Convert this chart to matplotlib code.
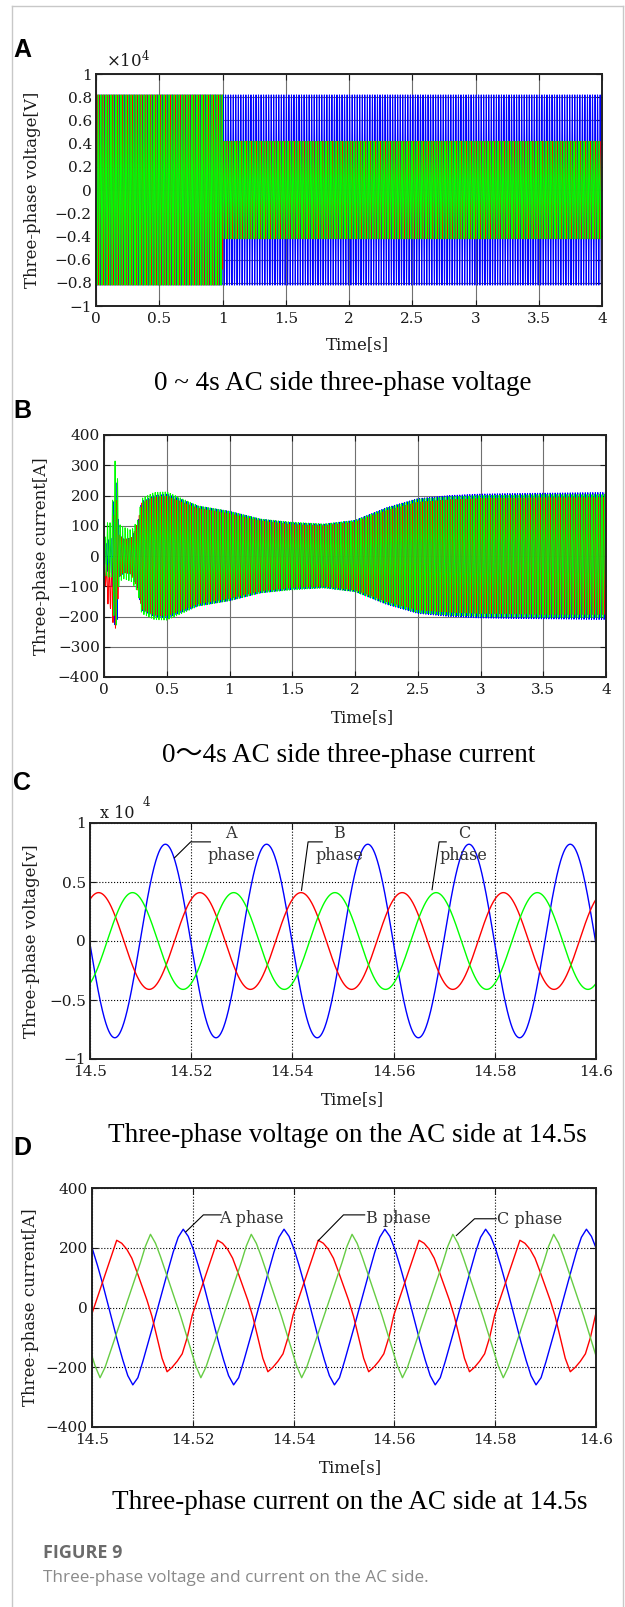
import numpy as np
import matplotlib
matplotlib.use('Agg')
import matplotlib.pyplot as plt
from matplotlib.lines import Line2D

W, H = 625, 1607

plt.rcParams['font.family'] = ['DejaVu Serif']
plt.rcParams['mathtext.fontset'] = 'dejavuserif'

BLUE, RED, GREEN = '#0000ff', '#ff0000', '#00ff00'
GREEN_D = '#66cc44'
F_GRID = 50.0  # grid frequency, Hz

# ---------------- A: 0-4 s AC voltage (x10^4 V) ----------------
a_seg_t = [0.0, 1.0, 4.0]          # amplitude steps at 1 s
a_amp_A = [0.82, 0.82]             # blue
a_amp_B = [0.82, 0.42]             # red
a_amp_C = [0.82, 0.42]             # green
a_phase = [0, -120, 120]
a_xticks = [0, 0.5, 1, 1.5, 2, 2.5, 3, 3.5, 4]
a_xlabels = ['0', '0.5', '1', '1.5', '2', '2.5', '3', '3.5', '4']
a_yticks = [-1, -0.8, -0.6, -0.4, -0.2, 0, 0.2, 0.4, 0.6, 0.8, 1]

b_key_t = [0.00, 0.02, 0.06, 0.08, 0.10, 0.12, 0.16, 0.22, 0.27, 0.30, 0.40, 0.50,
           0.75, 1.00, 1.25, 1.50, 1.75, 2.00, 2.25, 2.50, 2.75, 3.00, 3.50, 4.00]
b_amp_A = [20, 50, 60, 220, 250, 70, 55, 60, 110, 180, 200, 205,
           165, 148, 122, 110, 105, 118, 160, 190, 200, 205, 208, 210]
b_amp_B = [20, 60, 80, 190, 210, 70, 55, 60, 110, 175, 195, 198,
           158, 140, 116, 104, 100, 112, 150, 178, 186, 190, 193, 193]
b_amp_C = [30, 90, 90, 250, 290, 95, 85, 85, 120, 190, 210, 212,
           166, 148, 122, 112, 106, 118, 158, 188, 196, 200, 203, 203]
b_off_B = [0, -90, -100, -60, -20, 0, 0, 0, 0, 0, 0, 0,
           0, 0, 0, 0, 0, 0, 0, 0, 0, 0, 0, 0]
b_off_C = [0, 20, 20, 40, 60, 10, 10, 0, 0, 0, 0, 0,
           0, 0, 0, 0, 0, 0, 0, 0, 0, 0, 0, 0]
b_phase = [-174, 66, -54]
b_yticks = [-400, -300, -200, -100, 0, 100, 200, 300, 400]

# ---------------- C: voltage at 14.5 s (x10^4 V) ----------------
c_amp = [0.82, 0.41, 0.41]                 # blue, red, green
c_peak_t = [14.5149, 14.5017, 14.5084]     # time of a positive peak
c_lead = [[(14.5167, 0.705), (14.5199, 0.84), (14.5238, 0.84)],
          [(14.5418, 0.43), (14.5431, 0.84), (14.5459, 0.84)],
          [(14.5676, 0.435), (14.5690, 0.84), (14.5704, 0.84)]]
c_lbl_t = [14.5279, 14.5493, 14.5739]
c_lbl = ['A\nphase', 'B\nphase', 'C\nphase']
c_yticks = [-1, -0.5, 0, 0.5, 1]
cd_xticks = [14.5, 14.52, 14.54, 14.56, 14.58, 14.6]
cd_xlabels = ['14.5', '14.52', '14.54', '14.56', '14.58', '14.6']

# ---------------- D: current at 14.5 s (A), one period every 1 ms from peak ----------------
d_peak_t = [14.5181, 14.5049, 14.5116]
d_shape_A = [262, 238, 195, 140, 80, 15, -50, -115, -175, -228, -259,
             -235, -180, -120, -60, 2, 65, 125, 185, 235, 262]
d_shape_B = [225, 215, 195, 165, 120, 72, 25, -30, -100, -170, -215,
             -200, -180, -155, -100, -25, 25, 75, 125, 175, 225]
d_shape_C = [245, 215, 170, 120, 70, 20, -30, -85, -140, -195, -235,
             -200, -150, -100, -50, 0, 50, 100, 150, 205, 245]
d_lead = [[(14.5186, 253), (14.5221, 310), (14.5256, 310)],
          [(14.5449, 224), (14.5499, 310), (14.5541, 310)],
          [(14.5723, 241), (14.5759, 297), (14.5802, 297)]]
d_lbl_xy = [(14.5252, 299), (14.5543, 299), (14.5804, 293)]
d_lbl = ['A phase', 'B phase', 'C phase']
d_yticks = [-400, -200, 0, 200, 400]


def rect(box):
    l, t, r, b = box
    return [l / W, 1 - b / H, (r - l) / W, (b - t) / H]


def fx(px):
    return px / W


def fy(py):
    return 1 - py / H


def fmt(v):
    return ('%g' % v).replace('-', '\u2212')


def style(ax, box, ylabel, xlab_px, ylab_px, ls, gcolor):
    ax.tick_params(direction='in', length=4, width=0.8, top=True, right=True,
                   labelsize=11, colors='#1a1a1a')
    ax.tick_params(axis='y', pad=3)
    ax.tick_params(axis='x', pad=4)
    for s in ax.spines.values():
        s.set_linewidth(1.4)
        s.set_color('#222222')
    ax.grid(True, ls=ls, color=gcolor, lw=0.8)
    l, t, r, b = box
    ax.set_xlabel('Time[s]', fontsize=12, color='#1a1a1a', va='center')
    ax.xaxis.set_label_coords((xlab_px[0] - l) / (r - l), (b - xlab_px[1]) / (b - t))
    ax.set_ylabel(ylabel, fontsize=12, color='#1a1a1a', va='center')
    ax.yaxis.set_label_coords((ylab_px - l) / (r - l), 0.5)


def carrier(t, amp, phase_deg, offset=0.0):
    return offset + amp * np.sin(2 * np.pi * F_GRID * t + np.deg2rad(phase_deg))


def tile_period(shape, peak, n_per=8):
    vals = np.tile(shape[:-1], n_per)
    tt = peak - 0.02 + np.arange(len(vals)) * 0.001
    return tt, vals


fig = plt.figure(figsize=(W / 100, H / 100), dpi=100)

# frame
frame_c = '#c8c8c8'
fig.add_artist(Line2D([fx(12), fx(12)], [fy(6), 0], color=frame_c, lw=1))
fig.add_artist(Line2D([fx(12), fx(623)], [fy(6), fy(6)], color=frame_c, lw=1))
fig.add_artist(Line2D([fx(623), fx(623)], [fy(6), 0], color=frame_c, lw=1))

# ---------------- panel A ----------------
boxA = (96, 74, 602, 306)
axA = fig.add_axes(rect(boxA))
t = np.arange(0, 4.0, 2e-4)
seg = np.searchsorted(a_seg_t[1:-1], t, side='right')
for amps, ph, col, lw in zip([a_amp_A, a_amp_B, a_amp_C], a_phase, [BLUE, RED, GREEN],
                             [0.7, 0.6, 0.8]):
    axA.plot(t, carrier(t, np.array(amps)[seg], ph), color=col, lw=lw)
axA.set_xlim(0, 4)
axA.set_ylim(-1, 1)
axA.set_xticks(a_xticks, a_xlabels)
axA.set_yticks(a_yticks, [fmt(v) for v in a_yticks])
style(axA, boxA, 'Three-phase voltage[V]', (357, 345), 33, '-', '#707070')
fig.text(fx(106), fy(61), r'$\times10^{4}$', fontsize=12, ha='left', va='center', color='#1a1a1a')

# ---------------- panel B ----------------
boxB = (104, 435, 606, 677)
axB = fig.add_axes(rect(boxB))
for amps, off, ph, col in zip([b_amp_A, b_amp_B, b_amp_C],
                              [None, b_off_B, b_off_C], b_phase, [BLUE, RED, GREEN]):
    env = np.interp(t, b_key_t, amps)
    o = np.interp(t, b_key_t, off) if off is not None else 0.0
    axB.plot(t, carrier(t, env, ph, o), color=col, lw=0.7)
axB.set_xlim(0, 4)
axB.set_ylim(-400, 400)
axB.set_xticks(a_xticks, a_xlabels)
axB.set_yticks(b_yticks, [fmt(v) for v in b_yticks])
style(axB, boxB, 'Three-phase current[A]', (362, 718), 42, '-', '#707070')

# ---------------- panel C ----------------
boxC = (90, 823, 596, 1059)
axC = fig.add_axes(rect(boxC))
tc = np.linspace(14.5, 14.6, 2001)
for amp, pk, col in zip(c_amp, c_peak_t, [BLUE, RED, GREEN]):
    axC.plot(tc, amp * np.cos(2 * np.pi * F_GRID * (tc - pk)), color=col, lw=1.0)
for pts in c_lead:
    xs, ys = zip(*pts)
    axC.plot(xs, ys, color='black', lw=0.8)
for tx, s in zip(c_lbl_t, c_lbl):
    axC.text(tx, 0.82, s, ha='center', va='center', fontsize=11.5, color='#333333',
             linespacing=1.35)
axC.set_xlim(14.5, 14.6)
axC.set_ylim(-1, 1)
axC.set_xticks(cd_xticks, cd_xlabels)
axC.set_yticks(c_yticks, [fmt(v) for v in c_yticks])
style(axC, boxC, 'Three-phase voltage[v]', (352, 1100), 32, ':', 'black')
fig.text(fx(100), fy(813), 'x 10', fontsize=11.5, ha='left', va='center', color='#1a1a1a')
fig.text(fx(143), fy(803), '4', fontsize=8.5, ha='left', va='center', color='#1a1a1a')

# ---------------- panel D ----------------
boxD = (92, 1188, 596, 1427)
axD = fig.add_axes(rect(boxD))
for shape, pk, col in zip([d_shape_A, d_shape_B, d_shape_C], d_peak_t, [BLUE, RED, GREEN_D]):
    tt, vv = tile_period(shape, pk)
    axD.plot(tt, vv, color=col, lw=1.0)
for pts in d_lead:
    xs, ys = zip(*pts)
    axD.plot(xs, ys, color='black', lw=0.8)
for (tx, ty), s in zip(d_lbl_xy, d_lbl):
    axD.text(tx, ty, s, ha='left', va='center', fontsize=11.5, color='#333333')
axD.set_xlim(14.5, 14.6)
axD.set_ylim(-400, 400)
axD.set_xticks(cd_xticks, cd_xlabels)
axD.set_yticks(d_yticks, [fmt(v) for v in d_yticks])
style(axD, boxD, 'Three-phase current[A]', (350, 1468), 31, ':', 'black')

# ---------------- panel letters & captions ----------------
for letter, base in zip('ABCD', [57, 418, 790, 1155]):
    fig.text(fx(13), fy(base), letter, fontsize=18, fontweight='bold',
             family=['Liberation Sans'], ha='left', va='baseline')

cap_kw = dict(fontsize=19.5, ha='center', va='baseline', family=['Liberation Serif', 'Noto Sans CJK SC'])
fig.text(fx(343), fy(390), '0 ~ 4s AC side three-phase voltage', **cap_kw)
fig.text(fx(349), fy(762), '0\uff5e4s AC side three-phase current', **cap_kw)
fig.text(fx(347), fy(1142), 'Three-phase voltage on the AC side at 14.5s', **cap_kw)
fig.text(fx(350), fy(1509), 'Three-phase current on the AC side at 14.5s', **cap_kw)

fig.text(fx(43), fy(1558), 'FIGURE 9', fontsize=13, fontweight='bold', family=['Open Sans'],
         color='#6b6b6b', ha='left', va='baseline')
fig.text(fx(43), fy(1582), 'Three-phase voltage and current on the AC side.', fontsize=12.3,
         family=['Open Sans'], color='#8a8a8a', ha='left', va='baseline')

fig.savefig('out.png', dpi=100)
